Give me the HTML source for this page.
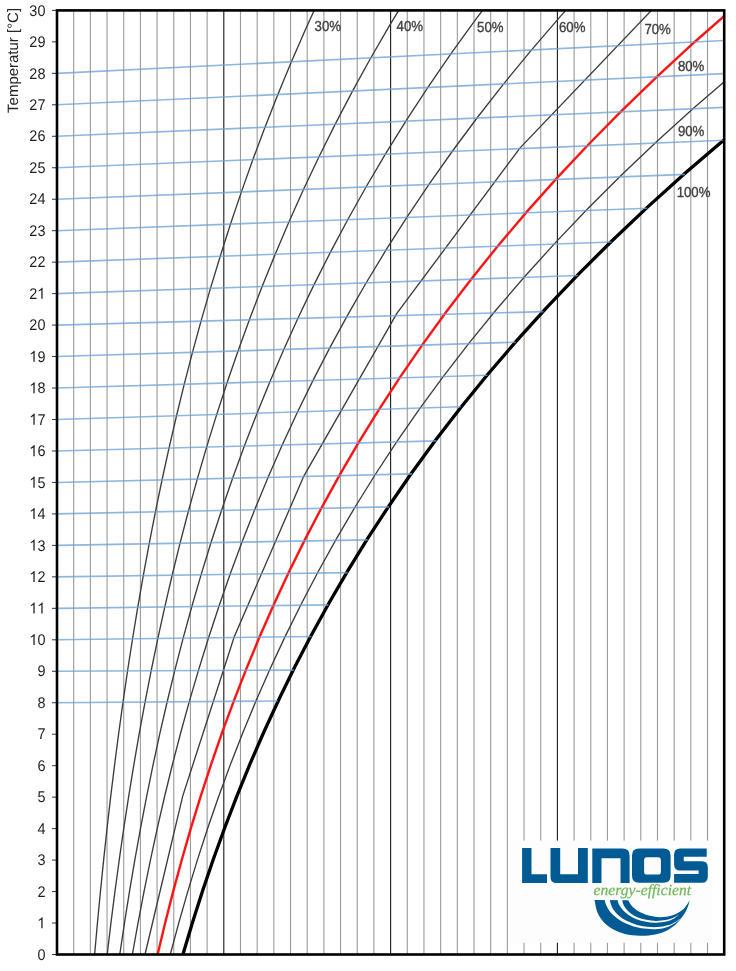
<!DOCTYPE html>
<html><head><meta charset="utf-8">
<style>
html,body{margin:0;padding:0;background:#fff;}
body{width:736px;height:971px;overflow:hidden;position:relative;}
svg{position:absolute;left:0;top:0;will-change:transform;}
</style></head><body>
<svg width="736" height="971" viewBox="0 0 736 971" text-rendering="geometricPrecision">
<defs><clipPath id="pc"><rect x="57" y="10.4" width="667.2" height="944.1"/></clipPath></defs>
<rect x="0" y="0" width="736" height="971" fill="#fff"/>
<g clip-path="url(#pc)">
<line x1="73.68" y1="10.4" x2="73.68" y2="954.5" stroke="#9a9a9a" stroke-width="1.1"/>
<line x1="90.36" y1="10.4" x2="90.36" y2="954.5" stroke="#9a9a9a" stroke-width="1.1"/>
<line x1="107.04" y1="10.4" x2="107.04" y2="954.5" stroke="#9a9a9a" stroke-width="1.1"/>
<line x1="123.72" y1="10.4" x2="123.72" y2="954.5" stroke="#9a9a9a" stroke-width="1.1"/>
<line x1="140.4" y1="10.4" x2="140.4" y2="954.5" stroke="#9a9a9a" stroke-width="1.1"/>
<line x1="157.08" y1="10.4" x2="157.08" y2="954.5" stroke="#9a9a9a" stroke-width="1.1"/>
<line x1="173.76" y1="10.4" x2="173.76" y2="954.5" stroke="#9a9a9a" stroke-width="1.1"/>
<line x1="190.44" y1="10.4" x2="190.44" y2="954.5" stroke="#9a9a9a" stroke-width="1.1"/>
<line x1="207.12" y1="10.4" x2="207.12" y2="954.5" stroke="#9a9a9a" stroke-width="1.1"/>
<line x1="223.8" y1="10.4" x2="223.8" y2="954.5" stroke="#1a1a1a" stroke-width="1.1"/>
<line x1="240.48" y1="10.4" x2="240.48" y2="954.5" stroke="#9a9a9a" stroke-width="1.1"/>
<line x1="257.16" y1="10.4" x2="257.16" y2="954.5" stroke="#9a9a9a" stroke-width="1.1"/>
<line x1="273.84" y1="10.4" x2="273.84" y2="954.5" stroke="#9a9a9a" stroke-width="1.1"/>
<line x1="290.52" y1="10.4" x2="290.52" y2="954.5" stroke="#9a9a9a" stroke-width="1.1"/>
<line x1="307.2" y1="10.4" x2="307.2" y2="954.5" stroke="#9a9a9a" stroke-width="1.1"/>
<line x1="323.88" y1="10.4" x2="323.88" y2="954.5" stroke="#9a9a9a" stroke-width="1.1"/>
<line x1="340.56" y1="10.4" x2="340.56" y2="954.5" stroke="#9a9a9a" stroke-width="1.1"/>
<line x1="357.24" y1="10.4" x2="357.24" y2="954.5" stroke="#9a9a9a" stroke-width="1.1"/>
<line x1="373.92" y1="10.4" x2="373.92" y2="954.5" stroke="#9a9a9a" stroke-width="1.1"/>
<line x1="390.6" y1="10.4" x2="390.6" y2="954.5" stroke="#1a1a1a" stroke-width="1.1"/>
<line x1="407.28" y1="10.4" x2="407.28" y2="954.5" stroke="#9a9a9a" stroke-width="1.1"/>
<line x1="423.96" y1="10.4" x2="423.96" y2="954.5" stroke="#9a9a9a" stroke-width="1.1"/>
<line x1="440.64" y1="10.4" x2="440.64" y2="954.5" stroke="#9a9a9a" stroke-width="1.1"/>
<line x1="457.32" y1="10.4" x2="457.32" y2="954.5" stroke="#9a9a9a" stroke-width="1.1"/>
<line x1="474" y1="10.4" x2="474" y2="954.5" stroke="#9a9a9a" stroke-width="1.1"/>
<line x1="490.68" y1="10.4" x2="490.68" y2="954.5" stroke="#9a9a9a" stroke-width="1.1"/>
<line x1="507.36" y1="10.4" x2="507.36" y2="954.5" stroke="#9a9a9a" stroke-width="1.1"/>
<line x1="524.04" y1="10.4" x2="524.04" y2="954.5" stroke="#9a9a9a" stroke-width="1.1"/>
<line x1="540.72" y1="10.4" x2="540.72" y2="954.5" stroke="#9a9a9a" stroke-width="1.1"/>
<line x1="557.4" y1="10.4" x2="557.4" y2="954.5" stroke="#1a1a1a" stroke-width="1.1"/>
<line x1="574.08" y1="10.4" x2="574.08" y2="954.5" stroke="#9a9a9a" stroke-width="1.1"/>
<line x1="590.76" y1="10.4" x2="590.76" y2="954.5" stroke="#9a9a9a" stroke-width="1.1"/>
<line x1="607.44" y1="10.4" x2="607.44" y2="954.5" stroke="#9a9a9a" stroke-width="1.1"/>
<line x1="624.12" y1="10.4" x2="624.12" y2="954.5" stroke="#9a9a9a" stroke-width="1.1"/>
<line x1="640.8" y1="10.4" x2="640.8" y2="954.5" stroke="#9a9a9a" stroke-width="1.1"/>
<line x1="657.48" y1="10.4" x2="657.48" y2="954.5" stroke="#9a9a9a" stroke-width="1.1"/>
<line x1="674.16" y1="10.4" x2="674.16" y2="954.5" stroke="#9a9a9a" stroke-width="1.1"/>
<line x1="690.84" y1="10.4" x2="690.84" y2="954.5" stroke="#9a9a9a" stroke-width="1.1"/>
<line x1="707.52" y1="10.4" x2="707.52" y2="954.5" stroke="#9a9a9a" stroke-width="1.1"/>
<polyline points="82.97,1112.07 85,1080.57 87.17,1049.07 89.49,1017.55 91.97,986.03 94.62,954.5 97.44,922.96 100.45,891.41 103.65,859.85 107.06,828.28 110.69,796.69 114.56,765.09 118.67,733.47 123.03,701.83 127.67,670.18 132.6,638.5 137.82,606.8 143.37,575.08 149.24,543.33 155.47,511.55 162.07,479.74 169.06,447.9 176.46,416.02 184.28,384.11 192.55,352.15 201.3,320.15 210.54,288.09 220.31,255.99 230.61,223.83 241.49,191.62 252.97,159.34 265.08,126.99 277.85,94.57 291.3,62.08 305.47,29.5 320.4,-3.17 336.12,-35.93 352.67,-68.78 370.08,-101.75 388.4,-134.82 407.66,-168.02" fill="none" stroke="#3c3c3c" stroke-width="1.35"/>
<polyline points="91.64,1112.15 94.35,1080.64 97.25,1049.12 100.35,1017.59 103.66,986.05 107.19,954.5 110.95,922.94 114.97,891.36 119.25,859.77 123.8,828.16 128.65,796.53 133.82,764.89 139.3,733.22 145.14,701.53 151.34,669.81 157.92,638.07 164.9,606.29 172.32,574.48 180.18,542.64 188.51,510.76 197.33,478.84 206.68,446.87 216.58,414.85 227.05,382.78 238.13,350.66 249.85,318.48 262.23,286.23 275.32,253.91 289.13,221.52 303.72,189.05 319.12,156.5 335.37,123.85 352.51,91.11 370.58,58.27 389.63,25.31 409.7,-7.77 430.84,-40.97 453.11,-74.3 476.55,-107.78 501.23,-141.41 527.19,-175.2" fill="none" stroke="#3c3c3c" stroke-width="1.35"/>
<polyline points="100.32,1112.22 103.71,1080.7 107.34,1049.17 111.21,1017.63 115.35,986.07 119.77,954.5 124.49,922.91 129.51,891.31 134.87,859.69 140.57,828.05 146.65,796.38 153.11,764.69 159.98,732.97 167.29,701.23 175.05,669.45 183.3,637.63 192.06,605.78 201.34,573.89 211.2,541.95 221.64,509.96 232.71,477.92 244.44,445.83 256.86,413.68 270,381.46 283.91,349.17 298.62,316.8 314.18,284.36 330.61,251.83 347.98,219.2 366.32,186.47 385.69,153.64 406.14,120.69 427.71,87.63 450.46,54.43 474.46,21.08 499.75,-12.4 526.42,-46.05 554.51,-79.87 584.1,-113.87 615.27,-148.07 648.09,-182.47" fill="none" stroke="#3c3c3c" stroke-width="1.35"/>
<polyline points="109,1112.3 113.08,1080.77 117.44,1049.22 122.09,1017.66 127.06,986.09 132.37,954.5 138.04,922.89 144.07,891.26 150.51,859.61 157.37,827.93 164.67,796.23 172.44,764.49 180.7,732.72 189.49,700.92 198.83,669.08 208.75,637.19 219.28,605.27 230.46,573.29 242.31,541.25 254.89,509.16 268.22,477.01 282.34,444.79 297.29,412.5 313.13,380.12 329.89,347.67 347.62,315.12 366.38,282.48 386.2,249.73 407.16,216.86 429.3,183.88 452.69,150.77 477.38,117.51 503.44,84.11 530.95,50.56 559.97,16.83 590.58,-17.08 622.86,-51.19 656.89,-85.5 692.75,-120.03 730.55,-154.8 770.37,-189.82" fill="none" stroke="#3c3c3c" stroke-width="1.35"/>
<polyline points="117.7,1112.37 144.99,954.5 182.72,796.07 234.25,636.76 303.84,476.09 396.85,313.43 520.1,147.87 682.19,-21.8 894.06,-197.25" fill="none" stroke="#3c3c3c" stroke-width="1.35"/>
<polyline points="135.1,1112.52 141.23,1080.96 147.79,1049.38 154.79,1017.78 162.27,986.15 170.26,954.5 178.79,922.82 187.89,891.11 197.58,859.37 207.92,827.58 218.92,795.76 230.64,763.89 243.11,731.97 256.37,700 270.47,667.97 285.45,635.88 301.37,603.71 318.27,571.48 336.22,539.16 355.25,506.75 375.44,474.25 396.85,441.64 419.54,408.93 443.58,376.09 469.05,343.13 496.01,310.03 524.55,276.77 554.76,243.36 586.71,209.77 620.51,176 656.24,142.03 694.02,107.84 733.95,73.43 776.14,38.77 820.71,3.84 867.8,-31.36 917.52,-66.87 970.03,-102.7 1025.47,-138.88 1083.99,-175.43 1145.77,-212.38" fill="none" stroke="#3c3c3c" stroke-width="1.35"/>
<polyline points="126.4,1112.45 131.84,1080.89 137.66,1049.33 143.88,1017.74 150.52,986.13 157.62,954.5 165.19,922.84 173.26,891.16 181.87,859.45 191.04,827.7 200.81,795.92 211.2,764.09 222.26,732.22 234.03,700.31 246.53,668.34 259.82,636.32 273.94,604.23 288.92,572.08 304.82,539.86 321.69,507.56 339.58,475.17 358.54,442.7 378.63,410.12 399.92,377.44 422.46,344.65 446.32,311.73 471.56,278.68 498.27,245.49 526.52,212.15 556.39,178.64 587.96,144.96 621.31,111.09 656.56,77.02 693.78,42.73 733.09,8.21 774.59,-26.56 818.4,-61.59 864.63,-96.91 913.42,-132.53 964.89,-168.48 1019.18,-204.77" fill="none" stroke="#ff1414" stroke-width="2.4"/>
<polyline points="143.82,1112.6 150.63,1081.02 157.92,1049.43 165.71,1017.81 174.04,986.17 182.92,954.5 192.41,922.8 202.53,891.06 213.32,859.28 224.82,827.47 237.07,795.6 250.11,763.69 263.99,731.72 278.76,699.69 294.46,667.6 311.15,635.44 328.88,603.2 347.71,570.87 367.7,538.46 388.92,505.94 411.43,473.32 435.3,440.59 460.61,407.73 487.43,374.74 515.84,341.6 545.94,308.31 577.81,274.85 611.54,241.21 647.24,207.38 685.01,173.34 724.97,139.08 767.22,104.58 811.9,69.82 859.13,34.78 909.05,-0.55 961.81,-36.2 1017.56,-72.19 1076.46,-108.55 1138.68,-145.3 1204.41,-182.46 1273.84,-220.07" fill="none" stroke="#000" stroke-width="3.3"/>
<line x1="57" y1="702.74" x2="277.6" y2="701" stroke="#6c9fd8" stroke-opacity="0.76" stroke-width="1.6"/>
<line x1="57" y1="671.27" x2="293.8" y2="670.1" stroke="#6c9fd8" stroke-opacity="0.76" stroke-width="1.6"/>
<line x1="57" y1="639.8" x2="311.4" y2="636.5" stroke="#6c9fd8" stroke-opacity="0.76" stroke-width="1.6"/>
<line x1="57" y1="608.33" x2="328.4" y2="604.9" stroke="#6c9fd8" stroke-opacity="0.76" stroke-width="1.6"/>
<line x1="57" y1="576.86" x2="347.71" y2="572.58" stroke="#6c9fd8" stroke-opacity="0.76" stroke-width="1.6"/>
<line x1="57" y1="545.39" x2="367.7" y2="539.87" stroke="#6c9fd8" stroke-opacity="0.76" stroke-width="1.6"/>
<line x1="57" y1="513.92" x2="388.92" y2="506.91" stroke="#6c9fd8" stroke-opacity="0.76" stroke-width="1.6"/>
<line x1="57" y1="482.45" x2="412" y2="473.9" stroke="#6c9fd8" stroke-opacity="0.76" stroke-width="1.6"/>
<line x1="57" y1="450.98" x2="436.4" y2="440.9" stroke="#6c9fd8" stroke-opacity="0.76" stroke-width="1.6"/>
<line x1="57" y1="419.51" x2="460.8" y2="406.7" stroke="#6c9fd8" stroke-opacity="0.76" stroke-width="1.6"/>
<line x1="57" y1="388.04" x2="487.43" y2="375.25" stroke="#6c9fd8" stroke-opacity="0.76" stroke-width="1.6"/>
<line x1="57" y1="356.57" x2="515.84" y2="342.18" stroke="#6c9fd8" stroke-opacity="0.76" stroke-width="1.6"/>
<line x1="57" y1="325.1" x2="543.4" y2="311.6" stroke="#6c9fd8" stroke-opacity="0.76" stroke-width="1.6"/>
<line x1="57" y1="293.63" x2="577.81" y2="275.57" stroke="#6c9fd8" stroke-opacity="0.76" stroke-width="1.6"/>
<line x1="57" y1="262.16" x2="611.54" y2="242.02" stroke="#6c9fd8" stroke-opacity="0.76" stroke-width="1.6"/>
<line x1="57" y1="230.69" x2="647.24" y2="208.28" stroke="#6c9fd8" stroke-opacity="0.76" stroke-width="1.6"/>
<line x1="57" y1="199.22" x2="685.01" y2="174.34" stroke="#6c9fd8" stroke-opacity="0.76" stroke-width="1.6"/>
<line x1="57" y1="167.75" x2="724.2" y2="140.21" stroke="#6c9fd8" stroke-opacity="0.76" stroke-width="1.6"/>
<line x1="57" y1="136.28" x2="724.2" y2="107.4" stroke="#6c9fd8" stroke-opacity="0.76" stroke-width="1.6"/>
<line x1="57" y1="104.81" x2="724.2" y2="73.6" stroke="#6c9fd8" stroke-opacity="0.76" stroke-width="1.6"/>
<line x1="57" y1="73.34" x2="724.2" y2="40.5" stroke="#6c9fd8" stroke-opacity="0.76" stroke-width="1.6"/>
</g>
<g><line x1="52" y1="954.5" x2="57" y2="954.5" stroke="#333" stroke-width="1"/>
<line x1="52" y1="923.03" x2="57" y2="923.03" stroke="#333" stroke-width="1"/>
<line x1="52" y1="891.56" x2="57" y2="891.56" stroke="#333" stroke-width="1"/>
<line x1="52" y1="860.09" x2="57" y2="860.09" stroke="#333" stroke-width="1"/>
<line x1="52" y1="828.62" x2="57" y2="828.62" stroke="#333" stroke-width="1"/>
<line x1="52" y1="797.15" x2="57" y2="797.15" stroke="#333" stroke-width="1"/>
<line x1="52" y1="765.68" x2="57" y2="765.68" stroke="#333" stroke-width="1"/>
<line x1="52" y1="734.21" x2="57" y2="734.21" stroke="#333" stroke-width="1"/>
<line x1="52" y1="702.74" x2="57" y2="702.74" stroke="#333" stroke-width="1"/>
<line x1="52" y1="671.27" x2="57" y2="671.27" stroke="#333" stroke-width="1"/>
<line x1="52" y1="639.8" x2="57" y2="639.8" stroke="#333" stroke-width="1"/>
<line x1="52" y1="608.33" x2="57" y2="608.33" stroke="#333" stroke-width="1"/>
<line x1="52" y1="576.86" x2="57" y2="576.86" stroke="#333" stroke-width="1"/>
<line x1="52" y1="545.39" x2="57" y2="545.39" stroke="#333" stroke-width="1"/>
<line x1="52" y1="513.92" x2="57" y2="513.92" stroke="#333" stroke-width="1"/>
<line x1="52" y1="482.45" x2="57" y2="482.45" stroke="#333" stroke-width="1"/>
<line x1="52" y1="450.98" x2="57" y2="450.98" stroke="#333" stroke-width="1"/>
<line x1="52" y1="419.51" x2="57" y2="419.51" stroke="#333" stroke-width="1"/>
<line x1="52" y1="388.04" x2="57" y2="388.04" stroke="#333" stroke-width="1"/>
<line x1="52" y1="356.57" x2="57" y2="356.57" stroke="#333" stroke-width="1"/>
<line x1="52" y1="325.1" x2="57" y2="325.1" stroke="#333" stroke-width="1"/>
<line x1="52" y1="293.63" x2="57" y2="293.63" stroke="#333" stroke-width="1"/>
<line x1="52" y1="262.16" x2="57" y2="262.16" stroke="#333" stroke-width="1"/>
<line x1="52" y1="230.69" x2="57" y2="230.69" stroke="#333" stroke-width="1"/>
<line x1="52" y1="199.22" x2="57" y2="199.22" stroke="#333" stroke-width="1"/>
<line x1="52" y1="167.75" x2="57" y2="167.75" stroke="#333" stroke-width="1"/>
<line x1="52" y1="136.28" x2="57" y2="136.28" stroke="#333" stroke-width="1"/>
<line x1="52" y1="104.81" x2="57" y2="104.81" stroke="#333" stroke-width="1"/>
<line x1="52" y1="73.34" x2="57" y2="73.34" stroke="#333" stroke-width="1"/>
<line x1="52" y1="41.87" x2="57" y2="41.87" stroke="#333" stroke-width="1"/>
<line x1="52" y1="10.4" x2="57" y2="10.4" stroke="#333" stroke-width="1"/></g>
<rect x="57" y="10.4" width="667.2" height="944.1" fill="none" stroke="#000" stroke-width="2.6"/>
<g font-family="Liberation Sans, sans-serif" fill="#1e1e1e"><g transform="translate(45.3,959.7) scale(14.42,15.5)"><text x="-0.56" y="0" font-size="1">0</text></g>
<g transform="translate(45.3,928.23) scale(14.42,15.5)"><path transform="translate(-0.56,0)" d="M0.284,0 L0.372,0 L0.372,-0.716 L0.315,-0.716 C0.285,-0.655 0.210,-0.600 0.108,-0.553 L0.108,-0.468 C0.175,-0.495 0.240,-0.530 0.284,-0.568 Z"/></g>
<g transform="translate(45.3,896.76) scale(14.42,15.5)"><text x="-0.56" y="0" font-size="1">2</text></g>
<g transform="translate(45.3,865.29) scale(14.42,15.5)"><text x="-0.56" y="0" font-size="1">3</text></g>
<g transform="translate(45.3,833.82) scale(14.42,15.5)"><text x="-0.56" y="0" font-size="1">4</text></g>
<g transform="translate(45.3,802.35) scale(14.42,15.5)"><text x="-0.56" y="0" font-size="1">5</text></g>
<g transform="translate(45.3,770.88) scale(14.42,15.5)"><text x="-0.56" y="0" font-size="1">6</text></g>
<g transform="translate(45.3,739.41) scale(14.42,15.5)"><text x="-0.56" y="0" font-size="1">7</text></g>
<g transform="translate(45.3,707.94) scale(14.42,15.5)"><text x="-0.56" y="0" font-size="1">8</text></g>
<g transform="translate(45.3,676.47) scale(14.42,15.5)"><text x="-0.56" y="0" font-size="1">9</text></g>
<g transform="translate(45.3,645) scale(14.42,15.5)"><path transform="translate(-1.11,0)" d="M0.284,0 L0.372,0 L0.372,-0.716 L0.315,-0.716 C0.285,-0.655 0.210,-0.600 0.108,-0.553 L0.108,-0.468 C0.175,-0.495 0.240,-0.530 0.284,-0.568 Z"/><text x="-0.56" y="0" font-size="1">0</text></g>
<g transform="translate(45.3,613.53) scale(14.42,15.5)"><path transform="translate(-1.11,0)" d="M0.284,0 L0.372,0 L0.372,-0.716 L0.315,-0.716 C0.285,-0.655 0.210,-0.600 0.108,-0.553 L0.108,-0.468 C0.175,-0.495 0.240,-0.530 0.284,-0.568 Z"/><path transform="translate(-0.56,0)" d="M0.284,0 L0.372,0 L0.372,-0.716 L0.315,-0.716 C0.285,-0.655 0.210,-0.600 0.108,-0.553 L0.108,-0.468 C0.175,-0.495 0.240,-0.530 0.284,-0.568 Z"/></g>
<g transform="translate(45.3,582.06) scale(14.42,15.5)"><path transform="translate(-1.11,0)" d="M0.284,0 L0.372,0 L0.372,-0.716 L0.315,-0.716 C0.285,-0.655 0.210,-0.600 0.108,-0.553 L0.108,-0.468 C0.175,-0.495 0.240,-0.530 0.284,-0.568 Z"/><text x="-0.56" y="0" font-size="1">2</text></g>
<g transform="translate(45.3,550.59) scale(14.42,15.5)"><path transform="translate(-1.11,0)" d="M0.284,0 L0.372,0 L0.372,-0.716 L0.315,-0.716 C0.285,-0.655 0.210,-0.600 0.108,-0.553 L0.108,-0.468 C0.175,-0.495 0.240,-0.530 0.284,-0.568 Z"/><text x="-0.56" y="0" font-size="1">3</text></g>
<g transform="translate(45.3,519.12) scale(14.42,15.5)"><path transform="translate(-1.11,0)" d="M0.284,0 L0.372,0 L0.372,-0.716 L0.315,-0.716 C0.285,-0.655 0.210,-0.600 0.108,-0.553 L0.108,-0.468 C0.175,-0.495 0.240,-0.530 0.284,-0.568 Z"/><text x="-0.56" y="0" font-size="1">4</text></g>
<g transform="translate(45.3,487.65) scale(14.42,15.5)"><path transform="translate(-1.11,0)" d="M0.284,0 L0.372,0 L0.372,-0.716 L0.315,-0.716 C0.285,-0.655 0.210,-0.600 0.108,-0.553 L0.108,-0.468 C0.175,-0.495 0.240,-0.530 0.284,-0.568 Z"/><text x="-0.56" y="0" font-size="1">5</text></g>
<g transform="translate(45.3,456.18) scale(14.42,15.5)"><path transform="translate(-1.11,0)" d="M0.284,0 L0.372,0 L0.372,-0.716 L0.315,-0.716 C0.285,-0.655 0.210,-0.600 0.108,-0.553 L0.108,-0.468 C0.175,-0.495 0.240,-0.530 0.284,-0.568 Z"/><text x="-0.56" y="0" font-size="1">6</text></g>
<g transform="translate(45.3,424.71) scale(14.42,15.5)"><path transform="translate(-1.11,0)" d="M0.284,0 L0.372,0 L0.372,-0.716 L0.315,-0.716 C0.285,-0.655 0.210,-0.600 0.108,-0.553 L0.108,-0.468 C0.175,-0.495 0.240,-0.530 0.284,-0.568 Z"/><text x="-0.56" y="0" font-size="1">7</text></g>
<g transform="translate(45.3,393.24) scale(14.42,15.5)"><path transform="translate(-1.11,0)" d="M0.284,0 L0.372,0 L0.372,-0.716 L0.315,-0.716 C0.285,-0.655 0.210,-0.600 0.108,-0.553 L0.108,-0.468 C0.175,-0.495 0.240,-0.530 0.284,-0.568 Z"/><text x="-0.56" y="0" font-size="1">8</text></g>
<g transform="translate(45.3,361.77) scale(14.42,15.5)"><path transform="translate(-1.11,0)" d="M0.284,0 L0.372,0 L0.372,-0.716 L0.315,-0.716 C0.285,-0.655 0.210,-0.600 0.108,-0.553 L0.108,-0.468 C0.175,-0.495 0.240,-0.530 0.284,-0.568 Z"/><text x="-0.56" y="0" font-size="1">9</text></g>
<g transform="translate(45.3,330.3) scale(14.42,15.5)"><text x="-1.11" y="0" font-size="1">2</text><text x="-0.56" y="0" font-size="1">0</text></g>
<g transform="translate(45.3,298.83) scale(14.42,15.5)"><text x="-1.11" y="0" font-size="1">2</text><path transform="translate(-0.56,0)" d="M0.284,0 L0.372,0 L0.372,-0.716 L0.315,-0.716 C0.285,-0.655 0.210,-0.600 0.108,-0.553 L0.108,-0.468 C0.175,-0.495 0.240,-0.530 0.284,-0.568 Z"/></g>
<g transform="translate(45.3,267.36) scale(14.42,15.5)"><text x="-1.11" y="0" font-size="1">2</text><text x="-0.56" y="0" font-size="1">2</text></g>
<g transform="translate(45.3,235.89) scale(14.42,15.5)"><text x="-1.11" y="0" font-size="1">2</text><text x="-0.56" y="0" font-size="1">3</text></g>
<g transform="translate(45.3,204.42) scale(14.42,15.5)"><text x="-1.11" y="0" font-size="1">2</text><text x="-0.56" y="0" font-size="1">4</text></g>
<g transform="translate(45.3,172.95) scale(14.42,15.5)"><text x="-1.11" y="0" font-size="1">2</text><text x="-0.56" y="0" font-size="1">5</text></g>
<g transform="translate(45.3,141.48) scale(14.42,15.5)"><text x="-1.11" y="0" font-size="1">2</text><text x="-0.56" y="0" font-size="1">6</text></g>
<g transform="translate(45.3,110.01) scale(14.42,15.5)"><text x="-1.11" y="0" font-size="1">2</text><text x="-0.56" y="0" font-size="1">7</text></g>
<g transform="translate(45.3,78.54) scale(14.42,15.5)"><text x="-1.11" y="0" font-size="1">2</text><text x="-0.56" y="0" font-size="1">8</text></g>
<g transform="translate(45.3,47.07) scale(14.42,15.5)"><text x="-1.11" y="0" font-size="1">2</text><text x="-0.56" y="0" font-size="1">9</text></g>
<g transform="translate(45.3,15.6) scale(14.42,15.5)"><text x="-1.11" y="0" font-size="1">3</text><text x="-0.56" y="0" font-size="1">0</text></g></g>
<text transform="translate(18.1,112.9) rotate(-90)" font-family="Liberation Sans, sans-serif" font-size="15" fill="#262626" textLength="105" lengthAdjust="spacingAndGlyphs">Temperatur [°C]</text>
<g font-family="Liberation Sans, sans-serif" font-size="14.5" fill="#404040" stroke="#404040" stroke-width="0.35"><text transform="translate(315.4,31.3) scale(0.91,1)" x="-0.9">30%</text>
<text transform="translate(397.4,31.3) scale(0.91,1)" x="-0.9">40%</text>
<text transform="translate(477.9,32.4) scale(0.91,1)" x="-0.9">50%</text>
<text transform="translate(559.8,32.4) scale(0.91,1)" x="-0.9">60%</text>
<text transform="translate(645.2,33.5) scale(0.91,1)" x="-0.9">70%</text>
<text transform="translate(678.7,71) scale(0.91,1)" x="-0.9">80%</text>
<text transform="translate(678.7,136.4) scale(0.91,1)" x="-0.9">90%</text>
<text transform="translate(677.5,197) scale(0.91,1)" x="-0.9">100%</text></g>
<g id="logo">
<rect x="508" y="840.6" width="204.5" height="102.2" fill="#fdfdfd"/>
<g fill="#005a94">
<path d="M522.1,847.9 H531.5 V874.2 H547 V883.1 H522.1 Z"/>
<path d="M550.5,847.9 H560.2 V874.2 H578 V847.9 H587.8 V883.1 H556.5 Q550.5,883.1 550.5,877.1 Z"/>
<path d="M592.3,848.5 H622.6 Q629.6,848.5 629.6,855.5 V883.1 H620.5 V858.3 H601.5 V883.1 H592.3 Z"/>
<path fill-rule="evenodd" d="M639,848.5 H663.6 Q670.6,848.5 670.6,855.5 V875.7 Q670.6,882.7 663.6,882.7 H639 Q632,882.7 632,875.7 V855.5 Q632,848.5 639,848.5 Z M647,857.3 Q644.1,857.3 644.1,860.2 V871.7 Q644.1,874.6 647,874.6 H658 Q660.9,874.6 660.9,871.7 V860.2 Q660.9,857.3 658,857.3 Z"/>
<path d="M680.1,848.6 H706.7 V856.8 H683.8 V861.3 H701.8 Q707.8,861.3 707.8,867.3 V876.7 Q707.8,882.7 701.8,882.7 H674.1 V874.1 H698.6 V870.5 H680.1 Q674.1,870.5 674.1,864.5 V854.6 Q674.1,848.6 680.1,848.6 Z"/>
<path d="M594.50,900.10 C595.00,902.17 595.92,908.77 597.50,912.50 C599.08,916.23 601.33,919.67 604.00,922.50 C606.67,925.33 610.00,927.58 613.50,929.50 C617.00,931.42 620.58,932.95 625.00,934.00 C629.42,935.05 635.00,935.70 640.00,935.80 C645.00,935.90 650.33,935.57 655.00,934.60 C659.67,933.63 664.00,932.27 668.00,930.00 C672.00,927.73 675.92,924.33 679.00,921.00 C682.08,917.67 684.70,913.45 686.50,910.00 C688.30,906.55 689.25,901.92 689.80,900.30 L628.2,900.3L689.80,900.30 C688.67,901.83 685.97,906.97 683.00,909.50 C680.03,912.03 675.83,914.22 672.00,915.50 C668.17,916.78 664.00,917.23 660.00,917.20 C656.00,917.17 651.67,916.33 648.00,915.30 C644.33,914.27 640.75,912.63 638.00,911.00 C635.25,909.37 633.13,907.28 631.50,905.50 C629.87,903.72 628.75,901.17 628.20,900.30 Z"/>
</g>
<g fill="#fdfdfd"><path d="M617.56,900.04 C617.81,900.85 618.14,903.11 619.08,904.86 C620.03,906.62 621.55,908.79 623.25,910.57 C624.94,912.36 627.03,914.10 629.25,915.56 C631.48,917.02 633.84,918.29 636.60,919.32 C639.36,920.36 642.59,921.22 645.82,921.78 C649.05,922.35 652.61,922.74 656.00,922.70 C659.39,922.66 663.12,922.24 666.15,921.53 C669.19,920.83 672.07,919.61 674.22,918.45 C676.37,917.29 678.25,915.23 679.06,914.58L678.94,914.42 C678.08,914.94 675.96,916.61 673.78,917.55 C671.60,918.49 668.81,919.51 665.85,920.07 C662.88,920.62 659.28,920.94 656.00,920.90 C652.72,920.86 649.28,920.42 646.18,919.82 C643.08,919.21 639.98,918.34 637.40,917.28 C634.83,916.21 632.69,914.91 630.75,913.44 C628.81,911.96 627.06,910.14 625.75,908.43 C624.45,906.71 623.47,904.72 622.92,903.14 C622.36,901.56 622.52,899.65 622.44,898.96 Z"/><path d="M604.68,900.15 C604.97,901.03 605.41,903.39 606.38,905.39 C607.34,907.39 608.70,910.02 610.49,912.15 C612.27,914.28 614.58,916.34 617.07,918.18 C619.56,920.02 622.33,921.71 625.43,923.17 C628.53,924.62 632.12,925.96 635.69,926.91 C639.27,927.85 643.17,928.51 646.90,928.84 C650.63,929.18 654.52,929.26 658.08,928.90 C661.63,928.53 665.20,927.76 668.22,926.66 C671.24,925.57 674.07,923.78 676.21,922.34 C678.34,920.90 680.23,918.76 681.03,918.04L680.97,917.96 C680.11,918.58 677.99,920.43 675.79,921.66 C673.59,922.89 670.76,924.43 667.78,925.34 C664.80,926.24 661.37,926.87 657.92,927.10 C654.48,927.34 650.71,927.16 647.10,926.76 C643.50,926.35 639.73,925.68 636.31,924.69 C632.88,923.70 629.47,922.31 626.57,920.83 C623.67,919.35 621.10,917.65 618.93,915.82 C616.75,913.99 614.90,911.88 613.51,909.85 C612.13,907.82 611.26,905.45 610.62,903.61 C609.99,901.78 609.87,899.64 609.72,898.85 Z"/></g>
<text x="593.6" y="895.3" font-family="Liberation Serif, serif" font-style="italic" font-size="15.5" fill="#72b85a" stroke="#72b85a" stroke-width="0.25" textLength="97.5" lengthAdjust="spacingAndGlyphs">energy-efficient</text>
</g>
</svg>
</body></html>
